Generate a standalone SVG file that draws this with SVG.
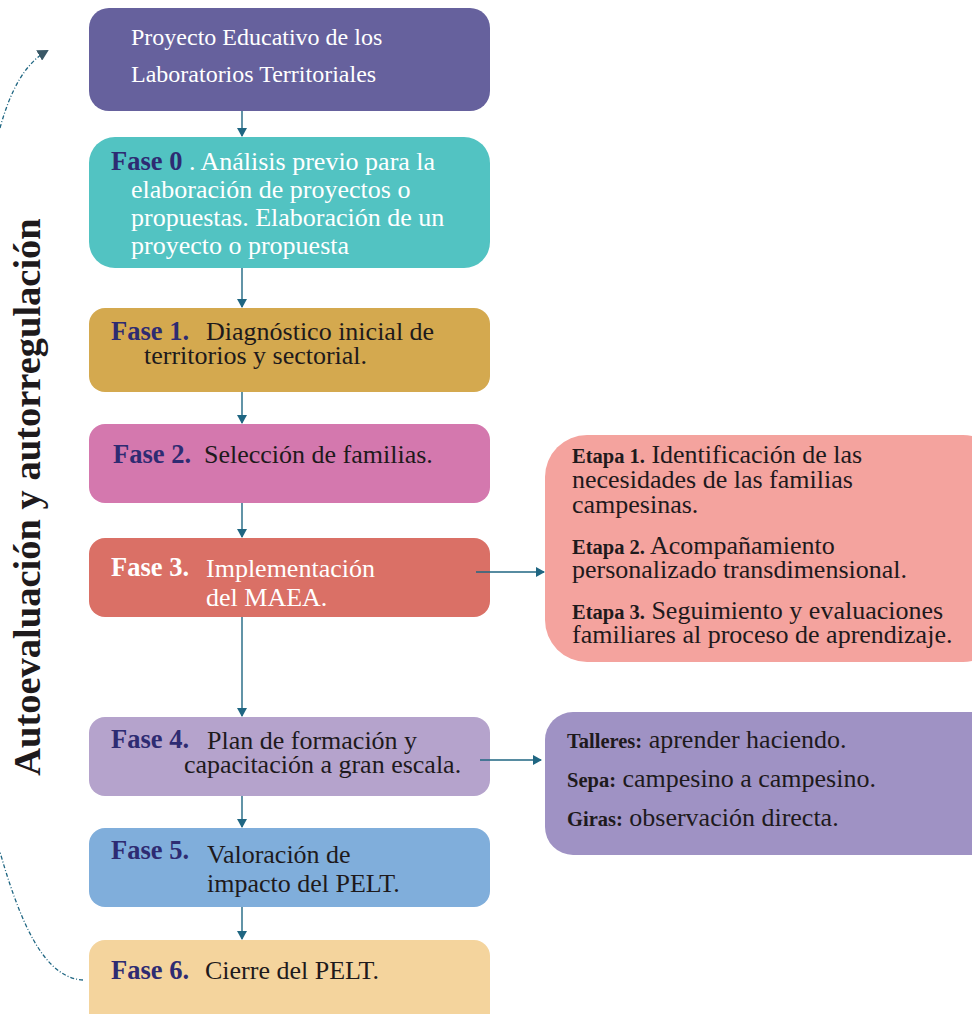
<svg xmlns="http://www.w3.org/2000/svg" width="972" height="1014" viewBox="0 0 972 1014">
<style>
text{font-family:"Liberation Serif","DejaVu Serif",serif;}
.b{font-size:26px;fill:#1e1a1c;}
.w{font-size:26px;fill:#ffffff;}
.f{font-size:26.5px;font-weight:bold;fill:#2e2b72;}
.fw{font-size:26.5px;font-weight:bold;fill:#ffffff;}
.s{font-size:20.5px;font-weight:bold;fill:#1e1a1c;}
.c{fill:none;stroke:#1f6682;stroke-width:1.4;}
.d{fill:none;stroke:#1f6682;stroke-width:1.3;stroke-dasharray:4 2 1 2;}
</style>
<defs>
<marker id="ah" markerWidth="10" markerHeight="10" refX="8" refY="5" orient="auto" markerUnits="userSpaceOnUse">
<path d="M0,0 L9,5 L0,10 Z" fill="#1f6682"/>
</marker>
<marker id="ah2" markerWidth="12" markerHeight="12" refX="9" refY="6" orient="auto" markerUnits="userSpaceOnUse">
<path d="M0,0 L11,6 L0,12 Z" fill="#3a5866"/>
</marker>
</defs>
<rect width="972" height="1014" fill="#ffffff"/>
<g id="side-label">
<text transform="translate(40,497) rotate(-90)" text-anchor="middle" style="font-size:38.5px;font-weight:bold;fill:#1e1a1c">Autoevaluación y autorregulación</text>
</g>
<g id="node-proyecto">
<rect x="89" y="8" width="401" height="103" rx="20" fill="#66619d"/>
<text class="w" x="131" y="45" style="font-size:24px">Proyecto Educativo de los</text>
<text class="w" x="131" y="82" style="font-size:24px">Laboratorios Territoriales</text>
</g>
<g id="node-fase0">
<rect x="89" y="137" width="401" height="131" rx="26" fill="#52c3c2"/>
<text x="111" y="170"><tspan class="f">Fase 0</tspan><tspan class="w"> . Análisis previo para la</tspan></text>
<text class="w" x="131" y="198">elaboración de proyectos o</text>
<text class="w" x="131" y="226">propuestas. Elaboración de un</text>
<text class="w" x="131" y="254">proyecto o propuesta</text>
</g>
<g id="node-fase1">
<rect x="89" y="308" width="401" height="84" rx="16" fill="#d4a94f"/>
<text class="f" x="111" y="340">Fase 1.</text>
<text class="b" x="206" y="340">Diagnóstico inicial de</text>
<text class="b" x="144" y="364">territorios y sectorial.</text>
</g>
<g id="node-fase2">
<rect x="89" y="424" width="401" height="79" rx="16" fill="#d478ae"/>
<text class="f" x="113" y="463">Fase 2.</text>
<text class="b" x="204" y="463">Selección de familias.</text>
</g>
<g id="node-fase3">
<rect x="89" y="538" width="401" height="79" rx="16" fill="#da7066"/>
<text class="fw" x="111" y="576">Fase 3.</text>
<text class="w" x="206" y="577">Implementación</text>
<text class="w" x="206" y="606">del MAEA.</text>
</g>
<g id="node-fase4">
<rect x="89" y="717" width="401" height="79" rx="16" fill="#b5a3cc"/>
<text class="f" x="111" y="748">Fase 4.</text>
<text class="b" x="207" y="749">Plan de formación y</text>
<text class="b" x="184" y="773">capacitación a gran escala.</text>
</g>
<g id="node-fase5">
<rect x="89" y="828" width="401" height="79" rx="16" fill="#80aedb"/>
<text class="f" x="111" y="859">Fase 5.</text>
<text class="b" x="207" y="863">Valoración de</text>
<text class="b" x="207" y="892">impacto del PELT.</text>
</g>
<g id="node-fase6">
<rect x="89" y="940" width="401" height="90" rx="16" fill="#f4d49d"/>
<text class="f" x="111" y="979">Fase 6.</text>
<text class="b" x="205" y="979">Cierre del PELT.</text>
</g>
<g id="node-etapas">
<rect x="545" y="435" width="460" height="227" rx="42" fill="#f4a39e"/>
<text x="572" y="463"><tspan class="s">Etapa 1.</tspan><tspan class="b"> Identificación de las</tspan></text>
<text class="b" x="572" y="488">necesidades de las familias</text>
<text class="b" x="572" y="513">campesinas.</text>
<text x="572" y="554"><tspan class="s">Etapa 2.</tspan><tspan class="b"> Acompañamiento</tspan></text>
<text class="b" x="572" y="578">personalizado transdimensional.</text>
<text x="572" y="619"><tspan class="s">Etapa 3.</tspan><tspan class="b"> Seguimiento y evaluaciones</tspan></text>
<text class="b" x="572" y="643">familiares al proceso de aprendizaje.</text>
</g>
<g id="node-talleres">
<rect x="545" y="712" width="460" height="143" rx="28" fill="#9f92c4"/>
<text x="567" y="748"><tspan class="s">Talleres:</tspan><tspan class="b"> aprender haciendo.</tspan></text>
<text x="567" y="787"><tspan class="s">Sepa:</tspan><tspan class="b"> campesino a campesino.</tspan></text>
<text x="567" y="826"><tspan class="s">Giras:</tspan><tspan class="b"> observación directa.</tspan></text>
</g>
<g id="connectors">
<line class="c" x1="242" y1="111" x2="242" y2="136" marker-end="url(#ah)"/>
<line class="c" x1="242" y1="268" x2="242" y2="307" marker-end="url(#ah)"/>
<line class="c" x1="242" y1="392" x2="242" y2="423" marker-end="url(#ah)"/>
<line class="c" x1="242" y1="503" x2="242" y2="537" marker-end="url(#ah)"/>
<line class="c" x1="242" y1="617" x2="242" y2="716" marker-end="url(#ah)"/>
<line class="c" x1="242" y1="796" x2="242" y2="827" marker-end="url(#ah)"/>
<line class="c" x1="242" y1="907" x2="242" y2="939" marker-end="url(#ah)"/>
<line class="c" x1="476" y1="572" x2="544" y2="572" marker-end="url(#ah)"/>
<line class="c" x1="480" y1="760" x2="541" y2="760" marker-end="url(#ah)"/>
<path class="d" d="M83,980 C50,978 25,940 0,852"/>
<path class="d" d="M0,128 C10,92 24,64 47,51" marker-end="url(#ah2)"/>
</g>
</svg>
